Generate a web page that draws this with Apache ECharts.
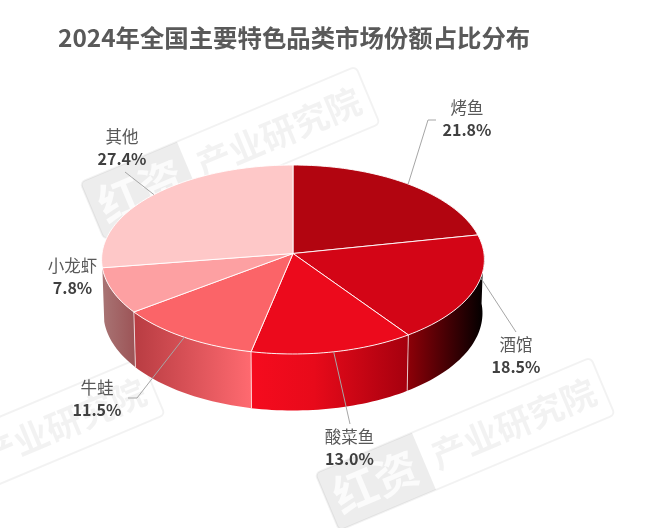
<!DOCTYPE html>
<html><head><meta charset="utf-8">
<style>html,body{margin:0;padding:0;background:#fff}#c{width:650px;height:528px}</style>
<script src="https://cdn.jsdelivr.net/npm/echarts@6/dist/echarts.min.js"></script>
</head><body><div id="c"></div>
<script>
var categories = ['烤鱼','酒馆','酸菜鱼','牛蛙','小龙虾','其他'];
var shares = [21.8,18.5,13.0,11.5,7.8,27.4];
var titleText = '2024年全国主要特色品类市场份额占比分布';

var topColors = ['#b20510','#d30516','#ec0a1c','#fb6468','#fda0a2','#fec8c8'];
var wallStops = [null,
  [[0,'#8f0008'],[1,'#000000']],
  [[0,'#f50b1e'],[0.4,'#e80a1a'],[1,'#a5000e']],
  [[0,'#b83c42'],[1,'#ff6a70']],
  [[0,'#a87474'],[1,'#9c5356']],
  null];
// perspective tilt of the disc: rays meet at the apex, k narrows the far half
var geo = {ax:293,ay:253.5,A:191,B:94.1,k:0.0635,depth:53.5,sx:0.99,sy:1.03};
var labelPos = [[467,118.5],[516,355.5],[349.5,448],[97,399],[72.5,277],[122,148]];
var leaderPath = [[[428,120],[436,120]],[[516,332]],[[350,424]],[[137,398],[128,398]],null,[[125,172]]];
var leaderNudge = [0,-7,0,0,0,0];

var total = shares.reduce(function(a,b){return a+b;},0);
var spans = [], acc = 0;
shares.forEach(function(v){ var s = acc/total*360; acc += v; spans.push([s, acc/total*360]); });
function pt(deg, low){
  var r = deg*Math.PI/180, u = Math.sin(r), v = Math.cos(r), w = 1 + geo.k*v;
  var dx = geo.A*u/w, dy = -geo.B*v/w;
  if (low) return [geo.ax + dx*geo.sx, geo.ay + geo.depth + dy*geo.sy];
  return [geo.ax + dx, geo.ay + dy];
}
function arc(a,b,low){
  var out = [], n = Math.max(2, Math.ceil((b-a)/1.5));
  for (var i=0;i<=n;i++) out.push(pt(a+(b-a)*i/n, low));
  return out;
}
function renderWall(p, api){
  var i = p.dataIndex, st = wallStops[i];
  if (!st) return {type:'group',children:[]};
  var a = Math.max(spans[i][0],88), b = Math.min(spans[i][1],272);
  var pts = arc(a,b,false).concat(arc(a,b,true).reverse());
  var kids = [{type:'polygon',shape:{points:pts},style:{fill:{type:'linear',x:0,y:0,x2:1,y2:0,colorStops:st.map(function(s){return {offset:s[0],color:s[1]};})}}}];
  if (spans[i][0] > 90){
    var s0 = pt(spans[i][0],false), s1 = pt(spans[i][0],true);
    kids.push({type:'line',shape:{x1:s0[0],y1:s0[1],x2:s1[0],y2:s1[1]},style:{stroke:'rgba(255,255,255,.7)',lineWidth:1}});
  }
  return {type:'group',children:kids};
}
function renderTop(p, api){
  var i = p.dataIndex, a = spans[i][0], b = spans[i][1];
  var pts = [[geo.ax,geo.ay]].concat(arc(a,b,false));
  return {type:'polygon',shape:{points:pts},style:{fill:topColors[i],stroke:'rgba(255,255,255,.9)',lineWidth:1,lineJoin:'round'}};
}
function renderLabel(p, api){
  var i = p.dataIndex, kids = [];
  if (leaderPath[i]){
    var m = (spans[i][0]+spans[i][1])/2 + leaderNudge[i];
    kids.push({type:'polyline',shape:{points:[pt(m,false)].concat(leaderPath[i])},style:{stroke:'#a6a6a6',lineWidth:1,fill:null}});
  }
  kids.push({type:'text',x:labelPos[i][0],y:labelPos[i][1],style:{
    text:'{n|'+categories[i]+'}\n{v|'+shares[i].toFixed(1)+'%}',align:'center',verticalAlign:'middle',
    rich:{n:{font:'16.5px "Noto Sans CJK SC"',fill:'#595959',lineHeight:22,align:'center'},
          v:{font:'bold 16px "Noto Sans CJK SC"',fill:'#404040',lineHeight:22,align:'center'}}}});
  return {type:'group',children:kids};
}
function mark(cx,cy){
  var w=299,h=62,lw=105;
  return {type:'group',x:cx,y:cy,rotation:22.8*Math.PI/180,z:50,children:[
    {type:'rect',shape:{x:-w/2,y:-h/2,width:w,height:h,r:5},style:{fill:'rgba(0,0,0,0)',stroke:'rgba(0,0,0,.05)',lineWidth:2}},
    {type:'rect',shape:{x:-w/2,y:-h/2,width:lw,height:h,r:[5,0,0,5]},style:{fill:'rgba(0,0,0,.07)'}},
    {type:'text',x:-w/2+lw/2,y:0,style:{text:'红资',align:'center',verticalAlign:'middle',font:'bold 44px "Noto Sans CJK SC"',fill:'rgba(255,255,255,.75)'}},
    {type:'text',x:lw/2,y:0,style:{text:'产业研究院',align:'center',verticalAlign:'middle',font:'bold 35px "Noto Sans CJK SC"',fill:'rgba(0,0,0,.05)'}}
  ]};
}
var chart = echarts.init(document.getElementById('c'),null,{renderer:'canvas'});
var rows = categories.map(function(c,i){return {name:c,value:shares[i]};});
chart.setOption({
  animation:false,backgroundColor:'#fff',
  title:{text:titleText,left:53,top:21,textStyle:{fontFamily:'"Noto Sans CJK SC"',fontSize:24.4,fontWeight:'bold',color:'#595959'}},
  graphic:[mark(230,153),mark(465,444),mark(15,444)],
  series:[
    {type:'custom',coordinateSystem:'none',silent:true,z:1,data:rows,renderItem:renderWall},
    {type:'custom',coordinateSystem:'none',silent:true,z:2,data:rows,renderItem:renderTop},
    {type:'custom',coordinateSystem:'none',silent:true,z:3,data:rows,renderItem:renderLabel}
  ]
});
</script></body></html>
